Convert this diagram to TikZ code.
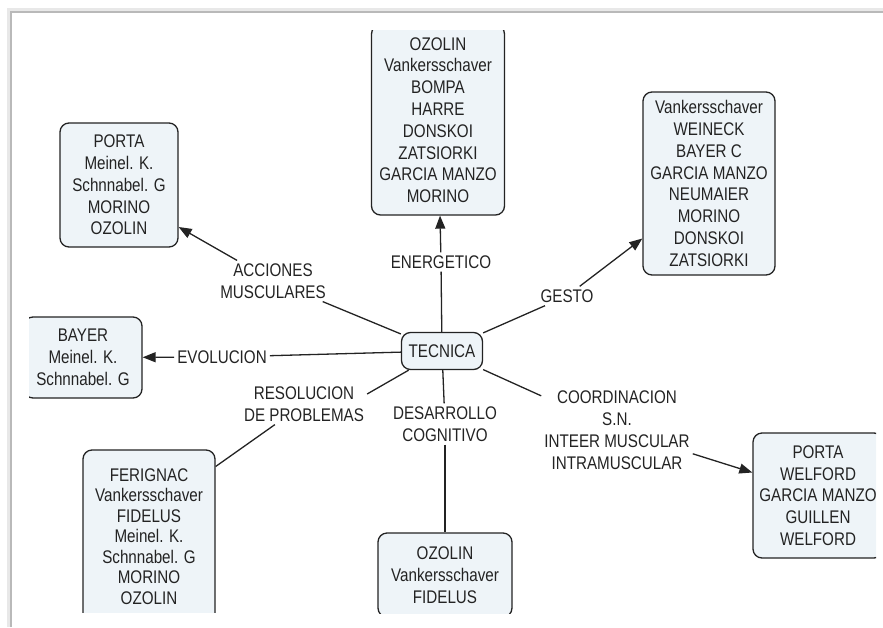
\documentclass[tikz,border=0pt]{standalone}
\usepackage{fontspec}
\setmainfont{Liberation Sans}[FakeStretch=0.83]
\usetikzlibrary{arrows.meta}
\definecolor{boxfill}{RGB}{238,244,248}
\definecolor{inkgray}{RGB}{35,35,35}
\tikzset{
  concept/.style={draw=inkgray, fill=boxfill, line width=1.3pt, rounded corners=9pt, align=center, inner sep=0pt, text=inkgray},
  phrase/.style={align=center, inner sep=3pt, text=inkgray},
  link/.style={inkgray, line width=1.3pt},
  linkto/.style={link, -{Triangle[length=13pt,width=10pt]}}
}

\begin{document}
\begin{tikzpicture}[x=1pt, y=-1pt, font=\fontsize{18.3}{21.8}\selectfont]
  \useasboundingbox (0,0) rectangle (883,627);
  \draw[gray!18, line width=3pt] (8,627) -- (8,9) -- (883,9);
  \draw[gray!55, line width=1.5pt] (11,627) -- (11,12) -- (883,12);

  \node[concept, minimum width=81pt, minimum height=37pt] (tec) at (442,351) {TECNICA};

  % boxes
  \begin{scope}
    \clip (360,30) rectangle (520,230);
    \node[concept, minimum width=133pt, minimum height=190pt] (ene) at (438,120)
      {OZOLIN\\Vankersschaver\\BOMPA\\HARRE\\DONSKOI\\ZATSIORKI\\GARCIA MANZO\\MORINO};
  \end{scope}
  \node[concept, minimum width=132pt, minimum height=183pt] (ges) at (709,183.5)
    {Vankersschaver\\WEINECK\\BAYER C\\GARCIA MANZO\\NEUMAIER\\MORINO\\DONSKOI\\ZATSIORKI};
  \node[concept, minimum width=118pt, minimum height=124pt] (acc) at (119,185)
    {PORTA\\Meinel. K.\\Schnnabel. G\\MORINO\\OZOLIN};
  \begin{scope}
    \clip (29,300) rectangle (150,410);
    \node[concept, minimum width=118pt, minimum height=81pt] (evo) at (83,357.5)
      {BAYER\\Meinel. K.\\Schnnabel. G};
  \end{scope}
  \begin{scope}
    \clip (70,440) rectangle (230,612);
    \node[concept, minimum width=132pt, minimum height=173pt, font=\fontsize{18.3}{20.5}\selectfont] (res) at (149,536.5)
      {FERIGNAC\\Vankersschaver\\FIDELUS\\Meinel. K.\\Schnnabel. G\\MORINO\\OZOLIN};
  \end{scope}
  \begin{scope}
    \clip (370,520) rectangle (525,613);
    \node[concept, minimum width=134pt, minimum height=84pt] (des) at (445,575)
      {OZOLIN\\Vankersschaver\\FIDELUS};
  \end{scope}
  \begin{scope}
    \clip (740,420) rectangle (876,570);
    \node[concept, minimum width=130pt, minimum height=125pt] (coo) at (818,495.5)
      {PORTA\\WELFORD\\GARCIA MANZO\\GUILLEN\\WELFORD};
  \end{scope}

  % linking phrases
  \node[phrase] (accl) at (273,281) {ACCIONES\\MUSCULARES};
  \node[phrase] (enel) at (441,262) {ENERGETICO};
  \node[phrase] (gesl) at (567,296) {GESTO};
  \node[phrase] (evol) at (222,357) {EVOLUCION};
  \node[phrase] (resl) at (304,404) {RESOLUCION\\DE PROBLEMAS};
  \node[phrase] (desl) at (445,424) {DESARROLLO\\COGNITIVO};
  \node[phrase] (cool) at (617,430) {COORDINACION\\S.N.\\INTEER MUSCULAR\\INTRAMUSCULAR};

  % links
  \draw[link] (tec) -- (accl);
  \draw[linkto] (accl) -- ([yshift=-42pt]acc.east);
  \draw[link] (tec) -- (enel);
  \draw[linkto] (enel) -- (ene);
  \draw[link] (tec) -- (gesl);
  \draw[linkto] (gesl) -- ([yshift=-55pt]ges.west);
  \draw[link] (tec) -- (evol);
  \draw[linkto] (evol) -- (evo);
  \draw[link] (tec) -- ([yshift=10pt]resl.east);
  \draw[link] (resl) -- ([yshift=70pt]res.east);
  \draw[link] (tec) -- (desl);
  \draw[link] (desl) -- (des);
  \draw[link] (tec) -- (cool);
  \draw[linkto] (cool) -- ([yshift=23pt]coo.west);
\end{tikzpicture}
\end{document}
